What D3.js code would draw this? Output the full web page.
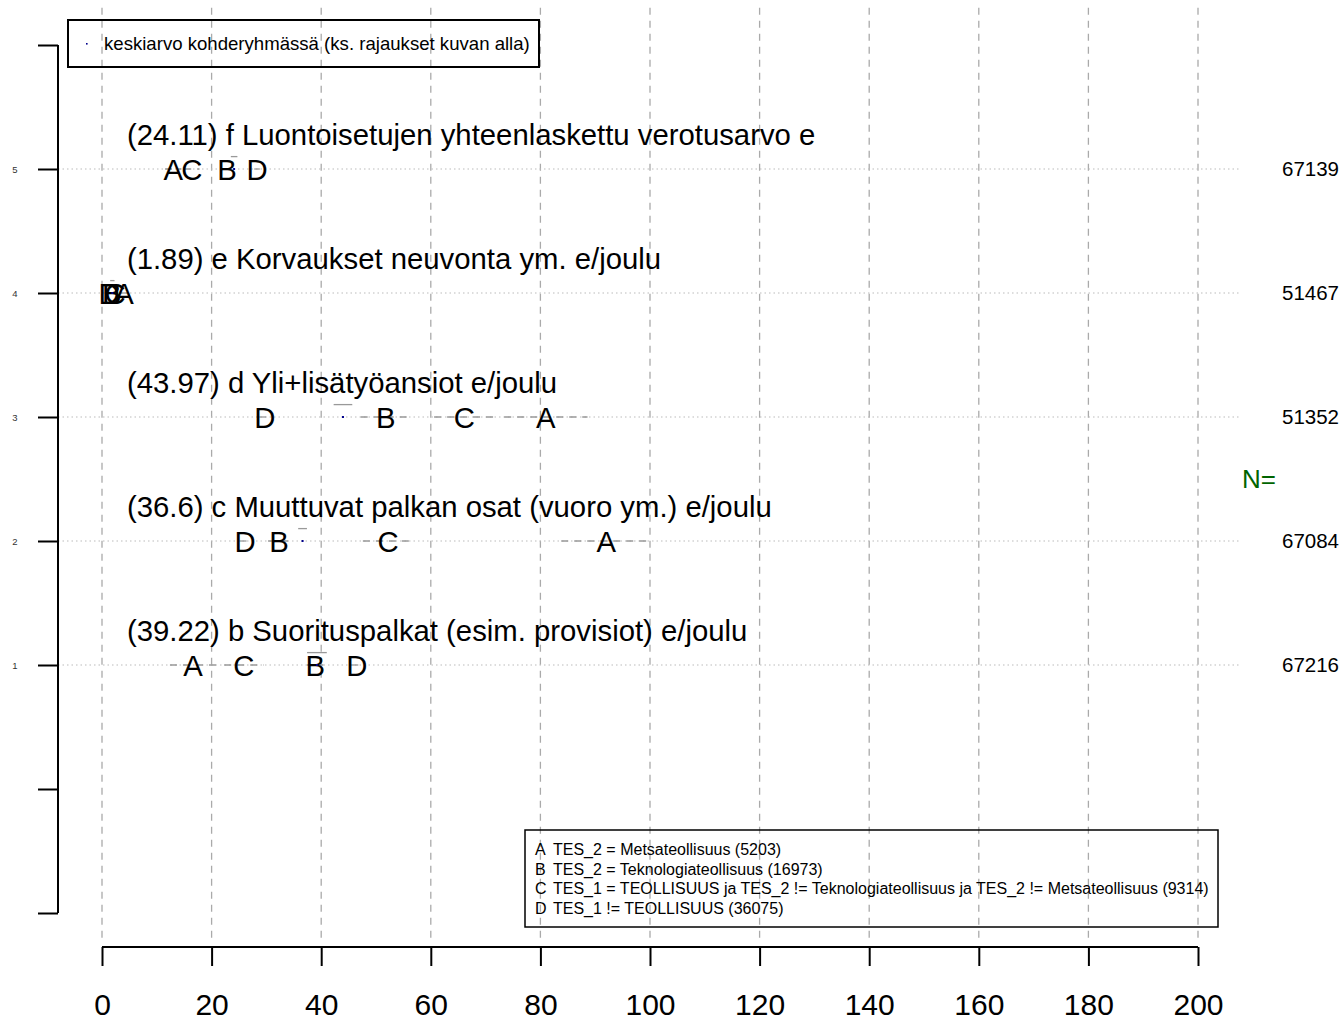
<!DOCTYPE html>
<html><head><meta charset="utf-8">
<script src="https://cdn.jsdelivr.net/npm/d3@7"></script>
<style>body{margin:0;background:#fff}svg{display:block;font-family:"Liberation Sans",Arial,Helvetica,sans-serif}</style>
</head><body><svg id="c" width="1343" height="1020"></svg>
<script>
// ---- data ----
const rowLabels = [
  "(39.22) b Suorituspalkat (esim. provisiot) e/joulu",
  "(36.6) c Muuttuvat palkan osat (vuoro ym.) e/joulu",
  "(43.97) d Yli+lisätyöansiot e/joulu",
  "(1.89) e Korvaukset neuvonta ym. e/joulu",
  "(24.11) f Luontoisetujen yhteenlaskettu verotusarvo e"
];
const rowPos = [1, 2, 3, 4, 5];
const overallMean = [39.22, 36.6, 43.97, 1.89, 24.11];
const overallHalf = [1.8, 0.8, 1.7, 0.4, 0.6];
const nValues = ["67216", "67084", "51352", "51467", "67139"];
const groups = ["D", "B", "C", "A"];
const groupMeans = {
  A: [16.6, 92.0, 81.0, 4.0, 13.0],
  B: [38.9, 32.3, 51.8, 1.8, 22.8],
  C: [25.9, 52.2, 66.1, 2.4, 16.4],
  D: [46.5, 26.1, 29.7, 1.3, 28.3]
};
const groupHalf = {
  A: [4.2, 8.2, 7.6, 0.6, 1.5],
  B: [1.5, 2.0, 4.6, 0.3, 1.0],
  C: [3.6, 4.6, 5.5, 0.4, 1.4],
  D: [1.0, 1.0, 1.0, 0.2, 0.5]
};
const legendLines = [
  ["A", "TES_2 = Metsateollisuus (5203)"],
  ["B", "TES_2 = Teknologiateollisuus (16973)"],
  ["C", "TES_1 = TEOLLISUUS ja TES_2 != Teknologiateollisuus ja TES_2 != Metsateollisuus (9314)"],
  ["D", "TES_1 != TEOLLISUUS (36075)"]
];
const topLegendText = "keskiarvo kohderyhmässä (ks. rajaukset kuvan alla)";
const xTicks = [0, 20, 40, 60, 80, 100, 120, 140, 160, 180, 200];
const yTicks = [-1, 0, 1, 2, 3, 4, 5, 6];
const yTickLabels = ["", "", "1", "2", "3", "4", "5", ""];

// ---- scales ----
const svg = d3.select("#c");
const x = d3.scaleLinear().domain([0, 200]).range([102, 1198]);
const y = d3.scaleLinear().domain([0, 6]).range([789, 45]);

// vertical grid
svg.append("g").selectAll("line").data(xTicks).join("line")
  .attr("x1", d => x(d)).attr("x2", d => x(d))
  .attr("y1", y(6.3)).attr("y2", y(-1.2))
  .attr("stroke", "#aaaaaa").attr("stroke-width", 1.3).attr("stroke-dasharray", "7,6");

// horizontal dotted lines
svg.append("g").selectAll("line").data(rowPos).join("line")
  .attr("x1", 58).attr("x2", 1240)
  .attr("y1", d => y(d)).attr("y2", d => y(d))
  .attr("stroke", "#bbbbbb").attr("stroke-width", 1).attr("stroke-dasharray", "1.5,3");

// left axis
const yAxis = d3.axisLeft(y).tickValues(yTicks).tickSize(20)
  .tickFormat((d, i) => yTickLabels[i]);
const ga = svg.append("g").attr("transform", "translate(58,0)").call(yAxis);
ga.select(".domain").attr("d", `M0,${y(6)}V${y(-1)}`).attr("stroke", "#000").attr("stroke-width", 2).attr("fill", "none");
ga.selectAll(".tick line").attr("stroke", "#000").attr("stroke-width", 2);
ga.selectAll(".tick text").attr("x", -43).attr("font-size", 9.5).attr("fill", "#333")
  .attr("font-family", "Liberation Sans, Arial, sans-serif").attr("text-anchor", "middle");

// bottom axis
const xAxis = d3.axisBottom(x).tickValues(xTicks).tickSize(19).tickPadding(22);
const gb = svg.append("g").attr("transform", "translate(0,947)").call(xAxis);
gb.select(".domain").attr("d", `M${x(0)},0H${x(200)}`).attr("stroke", "#000").attr("stroke-width", 2);
gb.selectAll(".tick line").attr("stroke", "#000").attr("stroke-width", 2);
gb.selectAll(".tick text").attr("font-size", 30).attr("fill", "#000")
  .attr("font-family", "Liberation Sans, Arial, sans-serif").attr("dy", "0.9em");

// group interval segments
groups.forEach(g => {
  svg.append("g").selectAll("line").data(rowPos).join("line")
    .attr("x1", (d, i) => x(groupMeans[g][i] - groupHalf[g][i]))
    .attr("x2", (d, i) => x(groupMeans[g][i] + groupHalf[g][i]))
    .attr("y1", d => y(d)).attr("y2", d => y(d))
    .attr("stroke", "#999").attr("stroke-width", 1.3).attr("stroke-dasharray", "7,6");
});
// overall mean interval (small dash above)
svg.append("g").selectAll("line").data(rowPos).join("line")
  .attr("x1", (d, i) => x(overallMean[i] - overallHalf[i]))
  .attr("x2", (d, i) => x(overallMean[i] + overallHalf[i]))
  .attr("y1", d => y(d + 0.1)).attr("y2", d => y(d + 0.1))
  .attr("stroke", "#999").attr("stroke-width", 1.3);

// row titles
svg.append("g").selectAll("text").data(rowPos).join("text")
  .attr("x", x(4.55)).attr("y", d => y(d) - 24)
  .attr("font-size", 29.3).attr("fill", "#000")
  .text((d, i) => rowLabels[i]);

// group letters
groups.forEach(g => {
  svg.append("g").selectAll("text").data(rowPos).join("text")
    .attr("x", (d, i) => x(groupMeans[g][i])).attr("y", d => y(d) + 10.5)
    .attr("text-anchor", "middle").attr("font-size", 29.3).attr("fill", "#000")
    .text(g);
});

// overall mean dots
svg.append("g").selectAll("rect").data(rowPos).join("rect")
  .attr("x", (d, i) => x(overallMean[i]) - 1).attr("y", d => y(d) - 1)
  .attr("width", 2).attr("height", 2).attr("fill", "#00008b");

// N values
svg.append("g").selectAll("text").data(rowPos).join("text")
  .attr("x", 1339).attr("y", d => y(d) + 7)
  .attr("text-anchor", "end").attr("font-size", 20.5).attr("fill", "#000")
  .text((d, i) => nValues[i]);
svg.append("text").attr("x", 1242).attr("y", y(2.5) + 9)
  .attr("font-size", 26).attr("fill", "#006400").text("N=");

// top legend
svg.append("rect").attr("x", 68).attr("y", 20).attr("width", 471).attr("height", 47)
  .attr("fill", "none").attr("stroke", "#000").attr("stroke-width", 2);
svg.append("rect").attr("x", 86).attr("y", 43).attr("width", 1.6).attr("height", 1.6).attr("fill", "#00008b");
svg.append("text").attr("x", 104).attr("y", 50).attr("font-size", 18.6).attr("fill", "#000").text(topLegendText);

// bottom legend
svg.append("rect").attr("x", 525).attr("y", 830).attr("width", 693).attr("height", 97)
  .attr("fill", "none").attr("stroke", "#000").attr("stroke-width", 1.5);
const lg = svg.append("g").selectAll("g").data(legendLines).join("g")
  .attr("transform", (d, i) => `translate(0,${855 + i * 19.7})`);
lg.append("text").attr("x", 535).attr("font-size", 16).text(d => d[0]);
lg.append("text").attr("x", 553).attr("font-size", 16).text(d => d[1]);
</script></body></html>
